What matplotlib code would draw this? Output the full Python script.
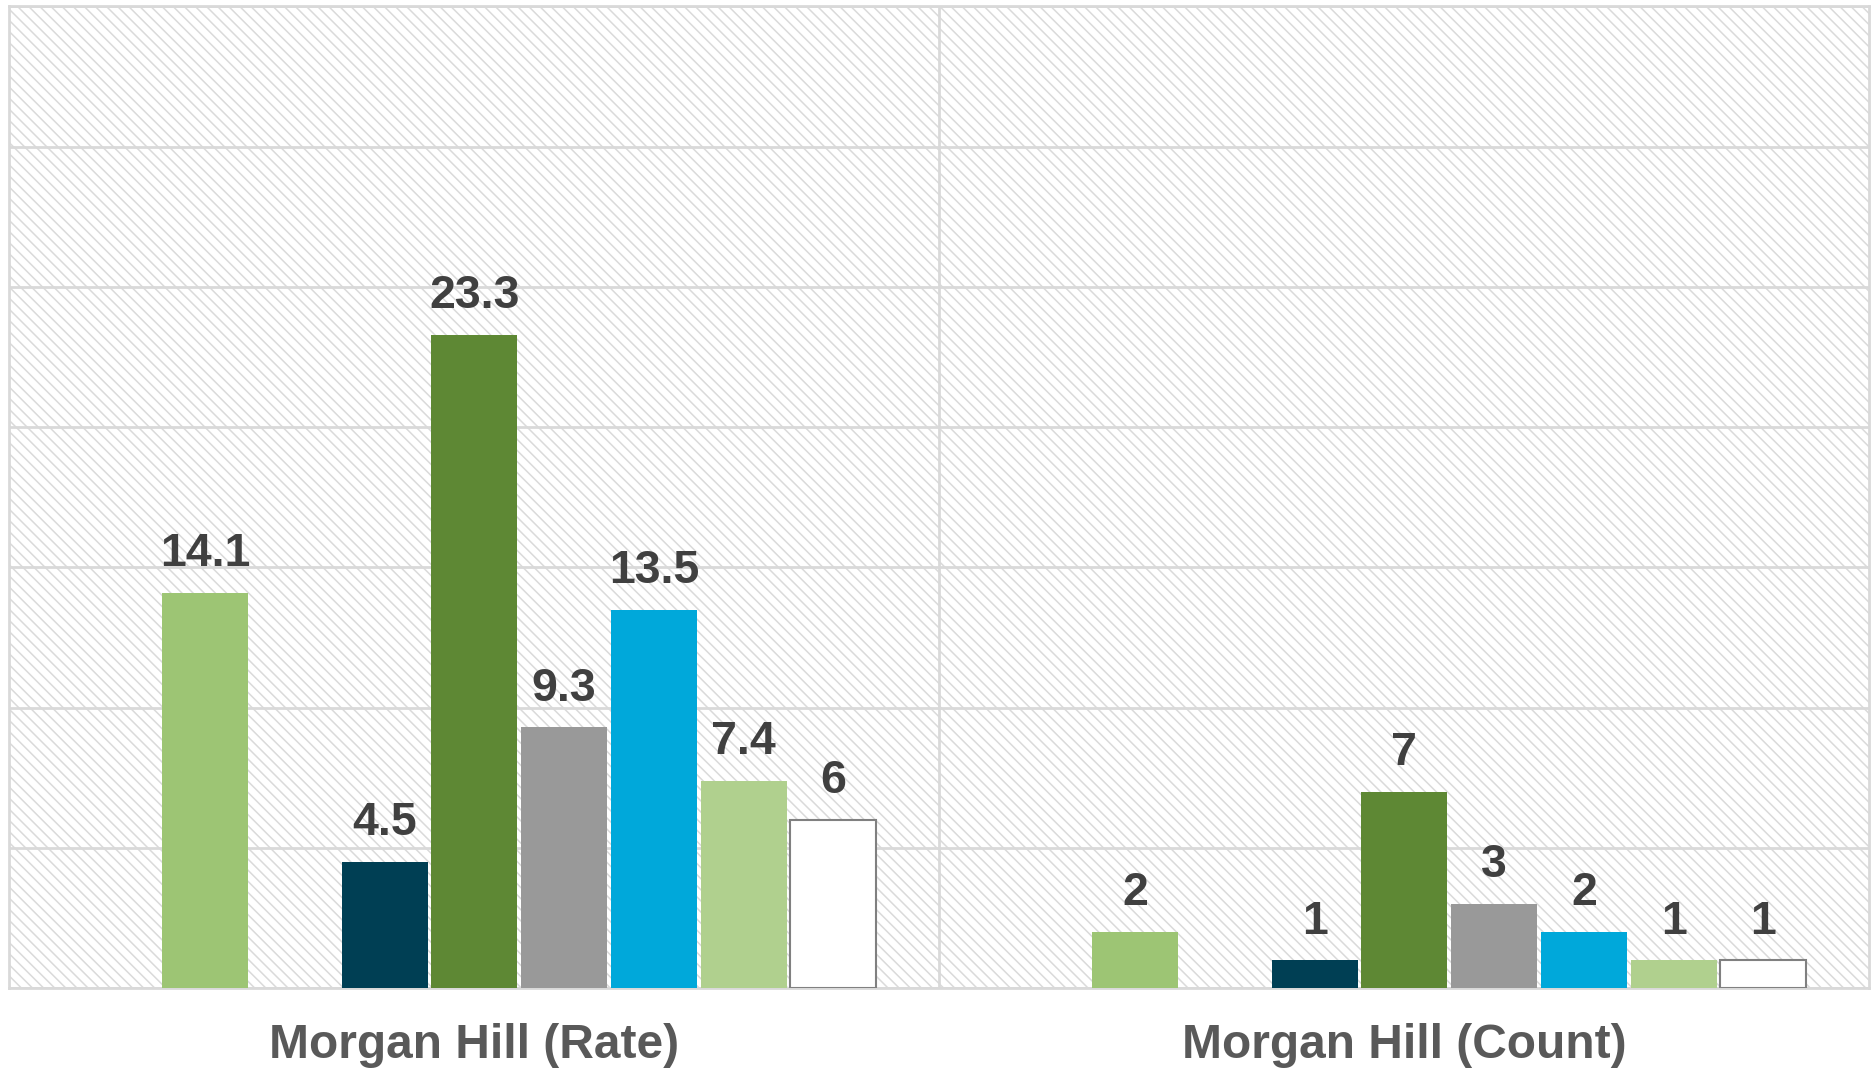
import matplotlib
matplotlib.use("Agg")

import numpy as np
import matplotlib.pyplot as plt

# categories and series values (nan = no bar)
categories = ["Morgan Hill (Rate)", "Morgan Hill (Count)"]
series_colors = ["#9dc574", "#9dc574", "#9dc574", "#003f54", "#5e8834",
                 "#999999", "#00a8da", "#b0d08e", "#ffffff"]
rate_values = [np.nan, 14.1, np.nan, 4.5, 23.3, 9.3, 13.5, 7.4, 6]
count_values = [np.nan, 2, np.nan, 1, 7, 3, 2, 1, 1]
label_text = [["", "14.1", "", "4.5", "23.3", "9.3", "13.5", "7.4", "6"],
              ["", "2", "", "1", "7", "3", "2", "1", "1"]]

plt.rcParams["font.family"] = ["Liberation Sans", "DejaVu Sans"]
plt.rcParams["hatch.color"] = "#dadada"
plt.rcParams["hatch.linewidth"] = 1.1

fig = plt.figure(figsize=(18.75, 10.73), dpi=100)
ax = fig.add_axes([0.005, 0.079, 0.992, 0.915])

ax.patch.set_facecolor("white")
ax.patch.set_hatch("\\\\\\")
ax.patch.set_edgecolor("#dadada")

n = len(series_colors)
slot = 0.0965
bar_w = 0.0927
x = np.arange(len(categories))

for i in range(n):
    vals = np.array([rate_values[i], count_values[i]], dtype=float)
    pos = x + (i - (n - 1) / 2) * slot
    if np.all(np.isnan(vals)):
        continue
    edge = "#808080" if series_colors[i] == "#ffffff" else "none"
    ax.bar(pos, np.nan_to_num(vals), width=bar_w, color=series_colors[i],
           edgecolor=edge, linewidth=1.5, zorder=3)
    for j, v in enumerate(vals):
        if np.isnan(v):
            continue
        ax.annotate(label_text[j][i], (pos[j], v), xytext=(0, 12),
                    textcoords="offset points", ha="center", va="bottom",
                    fontsize=33.5, fontweight="bold", color="#404040", zorder=4)

ax.set_xlim(-0.5, 1.5)
ax.set_ylim(0, 35)
ax.set_yticks(np.arange(0, 36, 5))
ax.set_yticklabels([])
ax.yaxis.grid(True, color="#d9d9d9", linewidth=2, zorder=1)
ax.set_axisbelow(True)
ax.axvline(0.5, color="#d9d9d9", linewidth=2, zorder=1)

ax.set_xticks(x)
ax.set_xticklabels(categories, fontsize=34.5, fontweight="bold", color="#595959")
ax.tick_params(axis="both", length=0)
ax.tick_params(axis="x", pad=25)

for s in ax.spines.values():
    s.set_color("#d9d9d9")
    s.set_linewidth(2)

fig.savefig("out.png", dpi=100, facecolor="white")
